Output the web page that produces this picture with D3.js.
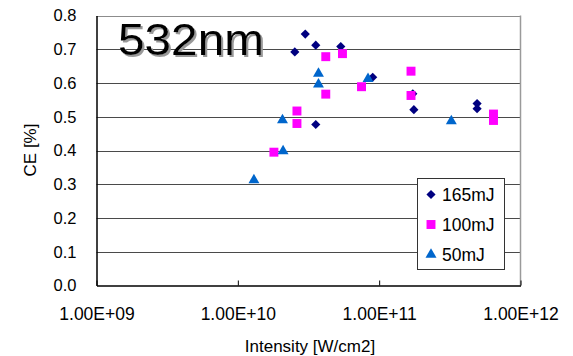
<!DOCTYPE html>
<html>
<head>
<meta charset="utf-8">
<script src="https://cdn.jsdelivr.net/npm/d3@7"></script>
<style>
  html, body { margin: 0; padding: 0; background: #fff; }
  svg { display: block; font-family: "Liberation Sans", Arial, sans-serif; }
</style>
</head>
<body>
<svg id="chart" width="573" height="356"></svg>
<script>
// Conversion efficiency vs. intensity at 532 nm, three pulse energies
const seriesNames = ["165mJ", "100mJ", "50mJ"];

const intensity165 = [2.53e10, 3.0e10, 3.56e10, 5.35e10, 9.0e10, 3.56e10, 1.73e11, 1.76e11, 4.93e11, 4.93e11];
const ce165        = [0.692, 0.745, 0.712, 0.708, 0.617, 0.477, 0.568, 0.521, 0.539, 0.524];

const intensity100 = [2.62e10, 2.62e10, 1.80e10, 4.19e10, 5.5e10, 4.19e10, 7.5e10, 1.68e11, 1.68e11, 6.44e11, 6.44e11];
const ce100        = [0.517, 0.480, 0.395, 0.678, 0.687, 0.567, 0.589, 0.635, 0.563, 0.508, 0.489];

const intensity50 = [1.30e10, 2.09e10, 2.07e10, 3.72e10, 3.72e10, 8.34e10, 3.24e11];
const ce50        = [0.312, 0.398, 0.490, 0.628, 0.596, 0.612, 0.487];

const xTickValues = [1e9, 1e10, 1e11, 1e12];
const xTickLabels = ["1.00E+09", "1.00E+10", "1.00E+11", "1.00E+12"];
const yTickValues = [0, 0.1, 0.2, 0.3, 0.4, 0.5, 0.6, 0.7, 0.8];

const titleText = "532nm";
const xTitle = "Intensity [W/cm2]";
const yTitle = "CE [%]";

// diamond drawn as a square turned 45 degrees, so it is as wide as it is tall
const symbolRhombus = {
  draw(context, size) {
    const r = Math.sqrt(size / 2);
    context.moveTo(0, -r);
    context.lineTo(r, 0);
    context.lineTo(0, r);
    context.lineTo(-r, 0);
    context.closePath();
  }
};

const series = [
  { name: seriesNames[0], xs: intensity165, ys: ce165, color: "#000080", shape: symbolRhombus, size: 42 },
  { name: seriesNames[1], xs: intensity100, ys: ce100, color: "#FF00FF", shape: d3.symbolSquare, size: 80 },
  { name: seriesNames[2], xs: intensity50,  ys: ce50,  color: "#0066CC", shape: d3.symbolTriangle, size: 52 }
];

const svg = d3.select("#chart");

const defs = svg.append("defs");
const shadow = defs.append("filter").attr("id", "titleShadow")
  .attr("x", "-10%").attr("y", "-10%").attr("width", "130%").attr("height", "140%");
shadow.append("feDropShadow")
  .attr("dx", 2).attr("dy", 2).attr("stdDeviation", 0.4)
  .attr("flood-color", "#999").attr("flood-opacity", 1);

const x = d3.scaleLog().domain([1e9, 1e12]).range([96.5, 520.5]);
const y = d3.scaleLinear().domain([0, 0.8]).range([285.5, 15.5]);

// horizontal gridlines
svg.append("g")
  .selectAll("line")
  .data(yTickValues.filter(v => v > 0))
  .join("line")
  .attr("x1", x.range()[0]).attr("x2", x.range()[1])
  .attr("y1", d => Math.round(y(d)) + 0.5).attr("y2", d => Math.round(y(d)) + 0.5)
  .attr("stroke", d => d === 0.8 ? "#8c8c8c" : "#4a4a4a")
  .attr("stroke-width", 1);

// right border of plot area
svg.append("line")
  .attr("x1", x.range()[1]).attr("x2", x.range()[1])
  .attr("y1", y.range()[1]).attr("y2", y.range()[0])
  .attr("stroke", "#9a9a9a").attr("stroke-width", 1.5);

// y axis
const yAxis = svg.append("g")
  .attr("transform", `translate(${x.range()[0]},0)`)
  .call(d3.axisLeft(y).tickValues(yTickValues).tickFormat(d3.format(".1f")).tickSize(0).tickPadding(20));
yAxis.select(".domain").attr("stroke", "#000").attr("stroke-width", 1.5);
yAxis.selectAll("text").attr("font-size", 16.5).attr("fill", "#000")
  .attr("font-family", "'Liberation Sans', Arial, sans-serif");

// x axis with inward ticks
const xAxis = svg.append("g")
  .attr("transform", `translate(0,${y.range()[0]})`)
  .call(d3.axisBottom(x).tickValues(xTickValues)
    .tickFormat((d, i) => xTickLabels[i]).tickSizeInner(-5).tickSizeOuter(0).tickPadding(22));
xAxis.select(".domain").attr("stroke", "#000").attr("stroke-width", 1.5);
xAxis.selectAll(".tick line").attr("stroke", "#000");
xAxis.selectAll("text").attr("font-size", 17.5).attr("fill", "#000")
  .attr("font-family", "'Liberation Sans', Arial, sans-serif");

// markers
series.forEach(s => {
  svg.append("g")
    .selectAll("path")
    .data(s.xs.map((v, i) => [v, s.ys[i]]))
    .join("path")
    .attr("d", d3.symbol().type(s.shape).size(s.size))
    .attr("transform", d => `translate(${x(d[0])},${y(d[1])})`)
    .attr("fill", s.color);
});

// title with drop shadow
svg.append("text")
  .attr("x", 118).attr("y", 55)
  .attr("font-size", 45).attr("fill", "#000")
  .attr("textLength", 146).attr("lengthAdjust", "spacingAndGlyphs")
  .attr("filter", "url(#titleShadow)")
  .text(titleText);

// legend
const legend = svg.append("g");
legend.append("rect")
  .attr("x", 417.5).attr("y", 178.5).attr("width", 87).attr("height", 91)
  .attr("fill", "#fff").attr("stroke", "#333").attr("stroke-width", 1);
series.forEach((s, i) => {
  const cy = 194.5 + i * 30;
  legend.append("path")
    .attr("d", d3.symbol().type(s.shape).size(s.size))
    .attr("transform", `translate(431,${cy})`)
    .attr("fill", s.color);
  legend.append("text")
    .attr("x", 442).attr("y", cy + 6)
    .attr("font-size", 17.5).attr("fill", "#000")
    .text(s.name);
});

// axis titles
svg.append("text")
  .attr("x", 310).attr("y", 352)
  .attr("text-anchor", "middle")
  .attr("font-size", 17).attr("fill", "#000")
  .text(xTitle);

svg.append("text")
  .attr("transform", "translate(36,150) rotate(-90)")
  .attr("text-anchor", "middle")
  .attr("font-size", 17).attr("fill", "#000")
  .text(yTitle);
</script>
</body>
</html>
